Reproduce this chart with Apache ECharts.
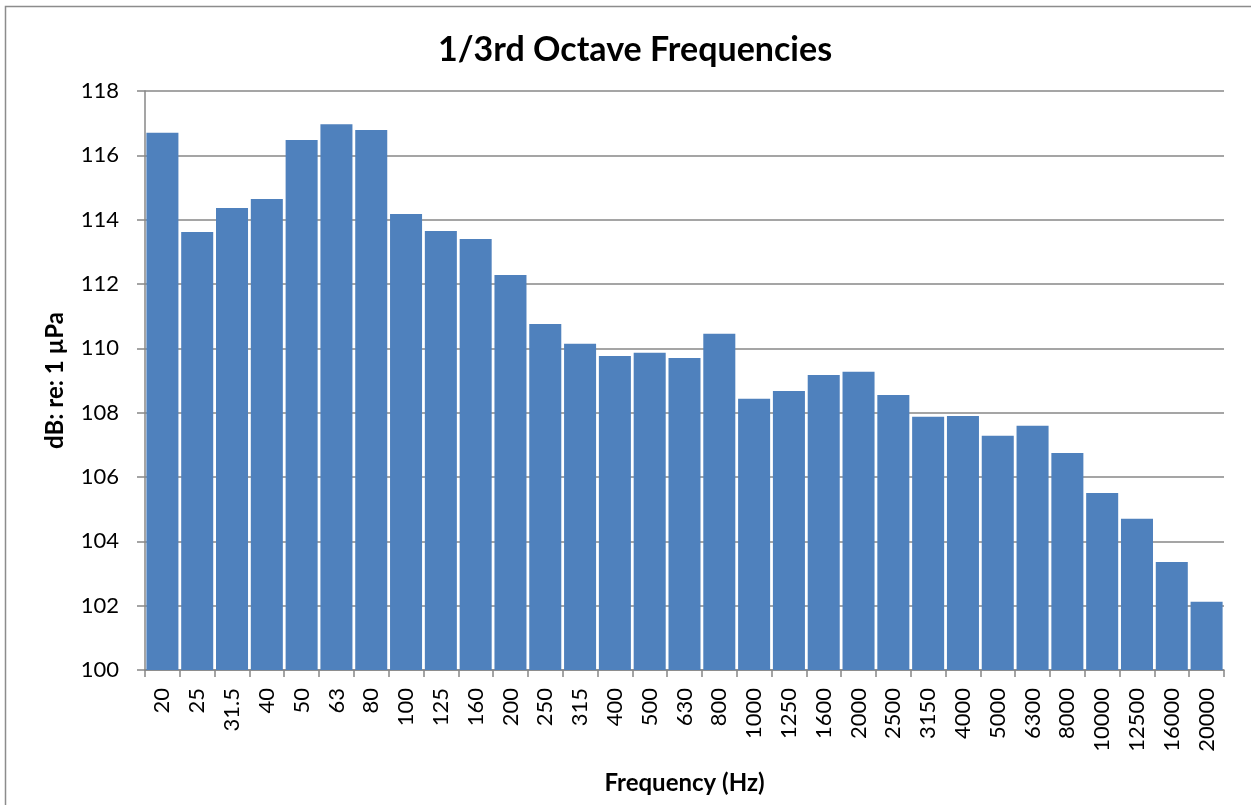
<!DOCTYPE html>
<html>
<head>
<meta charset="utf-8">
<script src="https://cdn.jsdelivr.net/npm/echarts@6/dist/echarts.min.js"></script>
<style>
    html, body { margin: 0; padding: 0; background: #fff; }
    #chart { width: 1251px; height: 805px; }
</style>
</head>
<body>
<div id="chart"></div>
<script>
const frequencies = ['20', '25', '31.5', '40', '50', '63', '80', '100', '125', '160', '200', '250',
    '315', '400', '500', '630', '800', '1000', '1250', '1600', '2000', '2500', '3150', '4000',
    '5000', '6300', '8000', '10000', '12500', '16000', '20000'];

const levels = [116.7, 113.62, 114.36, 114.64, 116.48, 116.97, 116.79, 114.18, 113.65, 113.4,
    112.28, 110.76, 110.14, 109.76, 109.86, 109.7, 110.45, 108.43, 108.67, 109.17, 109.27,
    108.55, 107.87, 107.9, 107.28, 107.59, 106.75, 105.5, 104.7, 103.36, 102.12];

const font = 'Lato, "Open Sans", sans-serif';

const chart = echarts.init(document.getElementById('chart'));

const option = {
    animation: false,
    title: {
        text: '1/3rd Octave Frequencies',
        left: 630,
        textAlign: 'center',
        top: 28,
        textStyle: { fontFamily: font, fontSize: 34, fontWeight: 'bold', color: '#000' }
    },
    graphic: [{
        type: 'rect',
        shape: { x: 5.5, y: 6.5, width: 1260, height: 820 },
        style: { fill: 'none', stroke: '#8c8c8c', lineWidth: 1.5 },
        silent: true
    }],
    grid: { left: 145, right: 27, top: 91, bottom: 135 },
    xAxis: {
        type: 'category',
        data: frequencies,
        name: 'Frequency (Hz)',
        nameLocation: 'middle',
        nameGap: 101,
        nameTextStyle: { fontFamily: font, fontSize: 24, fontWeight: 'bold', color: '#000' },
        axisLine: { lineStyle: { color: '#878787', width: 1.5 } },
        axisTick: { show: true, length: 7, lineStyle: { color: '#878787', width: 1.5 } },
        axisLabel: { rotate: 90, fontFamily: font, fontSize: 22, color: '#000', margin: 18, interval: 0 }
    },
    yAxis: {
        type: 'value',
        min: 100,
        max: 118,
        interval: 2,
        name: 'dB: re: 1 µPa',
        nameLocation: 'middle',
        nameGap: 78,
        nameTextStyle: { fontFamily: font, fontSize: 24, fontWeight: 'bold', color: '#000' },
        axisLine: { show: true, lineStyle: { color: '#878787', width: 1.5 } },
        axisTick: { show: true, length: 8, lineStyle: { color: '#878787', width: 1.5 } },
        axisLabel: { fontFamily: font, fontSize: 22, color: '#000', margin: 26 },
        splitLine: { lineStyle: { color: '#878787', width: 1.5 } }
    },
    series: [{
        type: 'bar',
        data: levels,
        barCategoryGap: '8%',
        itemStyle: { color: '#4f81bd' }
    }]
};

chart.setOption(option);
</script>
</body>
</html>
